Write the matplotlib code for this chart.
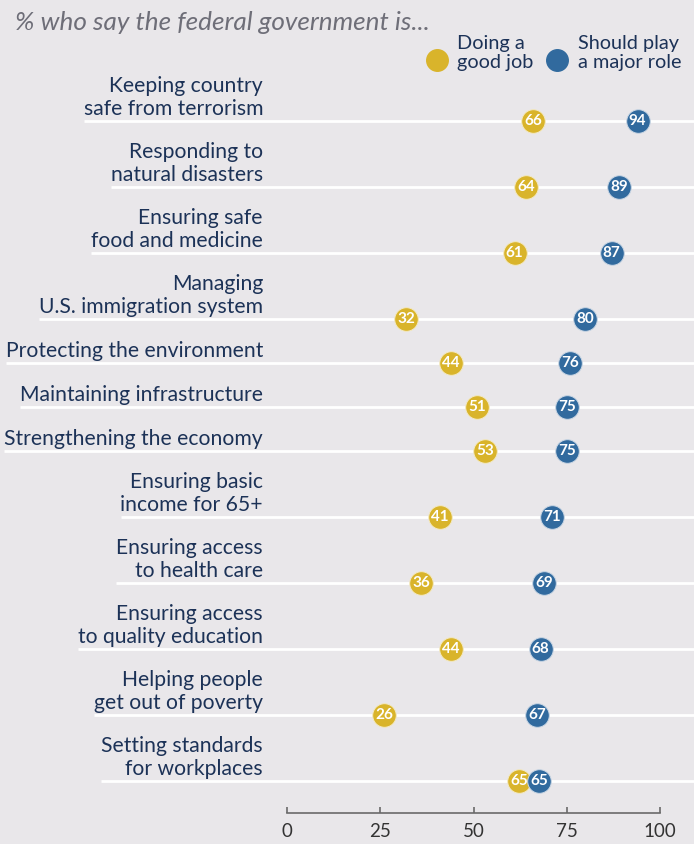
import matplotlib
matplotlib.use("Agg")
import matplotlib.pyplot as plt
from matplotlib.transforms import blended_transform_factory, offset_copy

categories = [
    "Keeping country\nsafe from terrorism",
    "Responding to\nnatural disasters",
    "Ensuring safe\nfood and medicine",
    "Managing\nU.S. immigration system",
    "Protecting the environment",
    "Maintaining infrastructure",
    "Strengthening the economy",
    "Ensuring basic\nincome for 65+",
    "Ensuring access\nto health care",
    "Ensuring access\nto quality education",
    "Helping people\nget out of poverty",
    "Setting standards\nfor workplaces",
]
good_job = [66, 64, 61, 32, 44, 51, 53, 41, 36, 44, 26, 65]
major_role = [94, 89, 87, 80, 76, 75, 75, 71, 69, 68, 67, 65]
ticks = [0, 25, 50, 75, 100]

title = "% who say the federal government is..."
legend_labels = ["Doing a\ngood job", "Should play\na major role"]

BG = "#e9e7ea"
YEL = "#d9b42b"
BLU = "#316a9e"
NAVY = "#1c3257"
FONT = "Lato"

W, H = 694, 844
fig = plt.figure(figsize=(W / 100, H / 100), dpi=100, facecolor=BG)

ax = fig.add_axes([287 / W, (H - 813) / H, 373 / W, 813 / H])
ax.set_facecolor(BG)
ax.set_xlim(0, 100)
ax.set_ylim(813, 0)
for s in ["top", "right", "left"]:
    ax.spines[s].set_visible(False)
ax.spines["bottom"].set_color("#6a6a6a")
ax.spines["bottom"].set_linewidth(1.2)
ax.set_yticks([])
ax.set_xticks(ticks)
ax.set_xticklabels([str(t) for t in ticks], fontfamily=FONT, fontsize=13.5, color="#333333")
ax.tick_params(axis="x", direction="in", length=4.5, width=1.2, color="#6a6a6a", pad=7)

# row positions derived from number of label lines
ys = []
y = 121
for i, c in enumerate(categories):
    n = c.count("\n") + 1
    if i > 0:
        y += 22 + 22 * n
    ys.append(y)

trans_lbl = blended_transform_factory(fig.transFigure, ax.transData)
texts = []
for c, yy in zip(categories, ys):
    t = ax.text(263 / W, yy - 6, c, transform=trans_lbl, ha="right", va="baseline",
                fontfamily=FONT, fontsize=15.2, color=NAVY, linespacing=1.2, clip_on=False)
    texts.append(t)

fig.canvas.draw()
renderer = fig.canvas.get_renderer()
for t, yy in zip(texts, ys):
    bb = t.get_window_extent(renderer)
    ax.plot([bb.x0 / W, 1.0], [yy, yy], transform=trans_lbl, color="white", lw=2.0,
            clip_on=False, zorder=1, solid_capstyle="butt")

for g, m, yy in zip(good_job, major_role, ys):
    off = 10 if abs(g - m) < 6 else 0
    tg = offset_copy(ax.transData, fig=fig, x=-off, y=0, units="dots")
    tm = offset_copy(ax.transData, fig=fig, x=off, y=0, units="dots")
    ax.plot(g, yy, "o", ms=17, color=YEL, mec="#f3e9c4", mew=0.7, transform=tg, zorder=3, clip_on=False)
    ax.text(g, yy, str(g), transform=tg, ha="center", va="center", color="white",
            fontfamily=FONT, fontweight="bold", fontsize=11, zorder=4)
    ax.plot(m, yy, "o", ms=17, color=BLU, mec="#c9d6e4", mew=0.7, transform=tm, zorder=5, clip_on=False)
    ax.text(m, yy, str(m), transform=tm, ha="center", va="center", color="white",
            fontfamily=FONT, fontweight="bold", fontsize=11, zorder=6)

# title
fig.text(15 / W, 1 - 22 / H, title, ha="left", va="center", fontfamily=FONT, style="italic",
         fontsize=18.8, color="#6e6e78")

# legend
for (dx, tx), lab, col in zip([(437, 457), (557, 578)], legend_labels, [YEL, BLU]):
    fig.lines.append(plt.Line2D([dx / W], [1 - 60 / H], marker="o", ms=15.5, color=col,
                                transform=fig.transFigure, linestyle="none"))
    fig.text(tx / W, 1 - 53 / H, lab, ha="left", va="center", fontfamily=FONT,
             fontsize=14.3, color=NAVY, linespacing=1.2)

fig.savefig("out.png", dpi=100, facecolor=BG)
